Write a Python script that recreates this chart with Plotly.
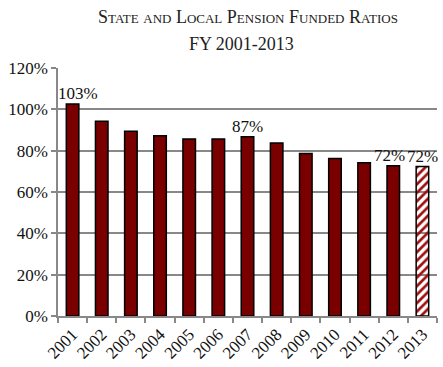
import plotly.graph_objects as go

years = ["2001", "2002", "2003", "2004", "2005", "2006", "2007", "2008", "2009", "2010", "2011", "2012", "2013"]
funded_ratio = [102.6, 94.2, 89.4, 87.2, 85.6, 85.6, 86.7, 83.7, 78.6, 76.2, 74.1, 72.7, 72.3]
labels = ["103%", "", "", "", "", "", "87%", "", "", "", "", "72%", "72%"]
y_ticks = [0, 20, 40, 60, 80, 100, 120]
y_tick_text = ["0%", "20%", "40%", "60%", "80%", "100%", "120%"]

maroon = "#7a0000"
stripe = "#a01010"
serif = "Liberation Serif, Times New Roman, serif"

fill_colors = [maroon] * 12 + [stripe]
shapes = [""] * 12 + ["/"]
pattern_bg = [maroon] * 12 + ["white"]

fig = go.Figure(go.Bar(
    x=years,
    y=funded_ratio,
    cliponaxis=False,
    marker=dict(
        color=fill_colors,
        line=dict(color="black", width=1.5),
        pattern=dict(shape=shapes, bgcolor=pattern_bg, size=6,
                     solidity=0.45, fillmode="replace"),
    ),
    width=0.43,
    hoverinfo="skip",
))

label_shift = {0: 5, 11: -4}
for i, (val, lab) in enumerate(zip(funded_ratio, labels)):
    if lab:
        fig.add_annotation(x=i, y=val, text=lab, showarrow=False, yanchor="bottom",
                           xanchor="center", xshift=label_shift.get(i, 0), yshift=0, borderpad=0,
                           font=dict(family=serif, size=17, color="#111"))

def sc(word):
    return word[0] + "<span style='font-size:13px'>" + word[1:].upper() + "</span>"

title_line1 = " ".join([sc("State"), "<span style='font-size:13px'>AND</span>", sc("Local"), sc("Pension"), sc("Funded"), sc("Ratios")])

fig.add_annotation(text=title_line1, xref="paper", yref="paper", x=0.5, y=1.0, yshift=51,
                   xanchor="center", yanchor="middle", showarrow=False,
                   font=dict(family=serif, size=18, color="#222"))
fig.add_annotation(text="FY 2001-2013", xref="paper", yref="paper", x=0.485, y=1.0, yshift=24,
                   xanchor="center", yanchor="middle", showarrow=False,
                   font=dict(family=serif, size=18, color="#222"))

fig.update_layout(
    width=443, height=367,
    margin=dict(l=58, r=6, t=68, b=51, autoexpand=False),
    paper_bgcolor="white", plot_bgcolor="white",
    showlegend=False,
    xaxis=dict(
        type="category",
        range=[-0.5, len(years) - 0.5],
        tickangle=-45, automargin=False,
        tickfont=dict(family=serif, size=17, color="#111"),
        showline=True, linecolor="#888", linewidth=1.5,
        ticks="outside", tickson="boundaries", ticklen=5, tickcolor="#888", tickwidth=1.5,
        showgrid=False,
    ),
    yaxis=dict(
        range=[0, 120], automargin=False,
        tickvals=y_ticks, ticktext=y_tick_text,
        tickfont=dict(family=serif, size=17, color="#111"),
        showline=True, linecolor="#888", linewidth=1.5,
        ticks="outside", ticklen=5, tickcolor="#888", tickwidth=1.5,
        showgrid=True, gridcolor="#888", gridwidth=1.5,
        zeroline=False,
    ),
)

fig.write_html("out.html", config={"displayModeBar": False},
               post_script="document.body.style.margin='0';document.body.style.padding='0';")
